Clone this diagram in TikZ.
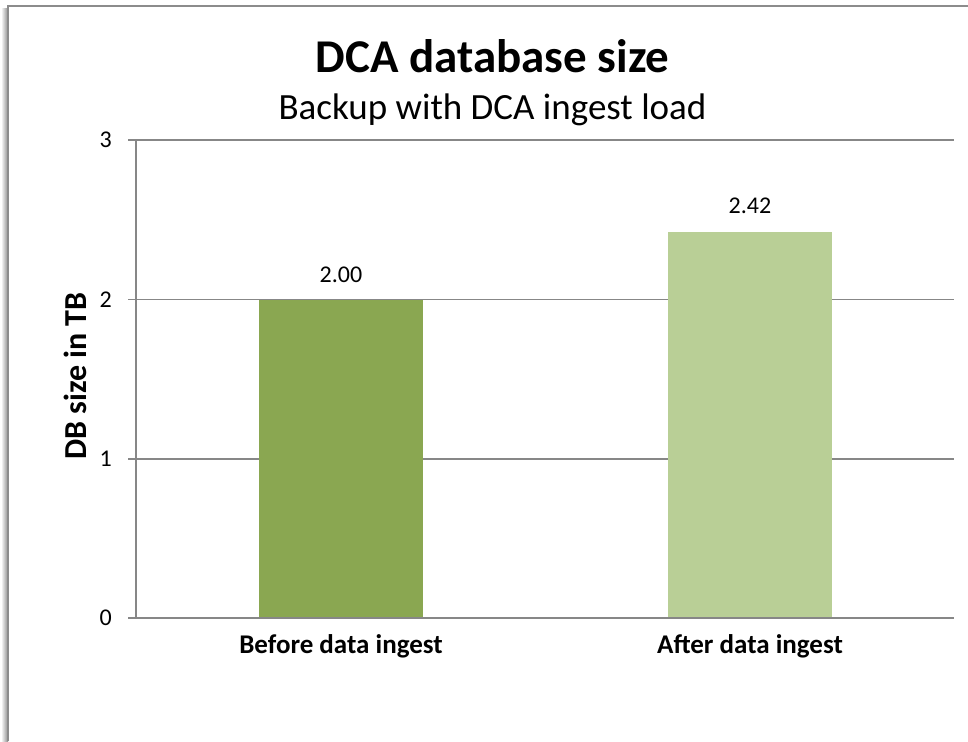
\documentclass[tikz,border=0pt]{standalone}
\usepackage{fontspec}
\setmainfont{Carlito}
\definecolor{barA}{HTML}{8AA751}
\definecolor{barB}{HTML}{B9CF96}
\definecolor{gridc}{HTML}{878787}
\definecolor{framec}{HTML}{8C8C8C}
\begin{document}
\begin{tikzpicture}[x=1pt,y=-1pt,
  gridline/.style={draw=gridc,line width=1.4pt},
  ticklabel/.style={anchor=east,inner sep=0pt,font=\fontsize{24}{28}\selectfont},
  datalabel/.style={inner sep=0pt,font=\fontsize{24}{28}\selectfont},
  catlabel/.style={anchor=base,inner sep=0pt,font=\fontsize{27}{32}\selectfont\bfseries},
  bar/.style={draw=none,inner sep=0pt,outer sep=0pt,anchor=south}]
\useasboundingbox (0,0) rectangle (968,741);
\fill[white] (0,0) rectangle (968,741);
% frame with shadow
\shade[left color=white,right color=black!45] (1,9) rectangle (8,741);
\draw[framec,line width=1.6pt] (8,741) -- (8,6) -- (968,6);
% titles
\node[anchor=base,inner sep=0pt,font=\fontsize{47}{54}\selectfont\bfseries] (title) at (492.5,73) {DCA database size};
\node[anchor=base,inner sep=0pt,font=\fontsize{37}{44}\selectfont] (subtitle) at (492.5,120) {Backup with DCA ingest load};
% gridlines and tick labels
\foreach \v/\y in {0/618,1/459,2/299.5,3/140}{
  \draw[gridline] (128,\y) -- (954,\y);
  \node[ticklabel] (tick\v) at (112,\y) {\v};
}
\draw[gridline] (136,140) -- (136,618);
% bars
\node[bar,fill=barA,minimum width=164pt,minimum height=318.5pt] (barbefore) at (341,618) {};
\node[bar,fill=barB,minimum width=164pt,minimum height=386pt] (barafter) at (750,618) {};
\draw[gridline] (128,618) -- (954,618);
% data labels
\node[datalabel,yshift=25pt] (valbefore) at (barbefore.north) {2.00};
\node[datalabel,yshift=26.5pt] (valafter) at (barafter.north) {2.42};
% category labels
\node[catlabel] (catbefore) at (341,653) {Before data ingest};
\node[catlabel] (catafter) at (750,653) {After data ingest};
% axis title
\node[rotate=90,inner sep=0pt,font=\fontsize{32}{38}\selectfont\bfseries] (ytitle) at (75,376) {DB size in TB};
\end{tikzpicture}
\end{document}
